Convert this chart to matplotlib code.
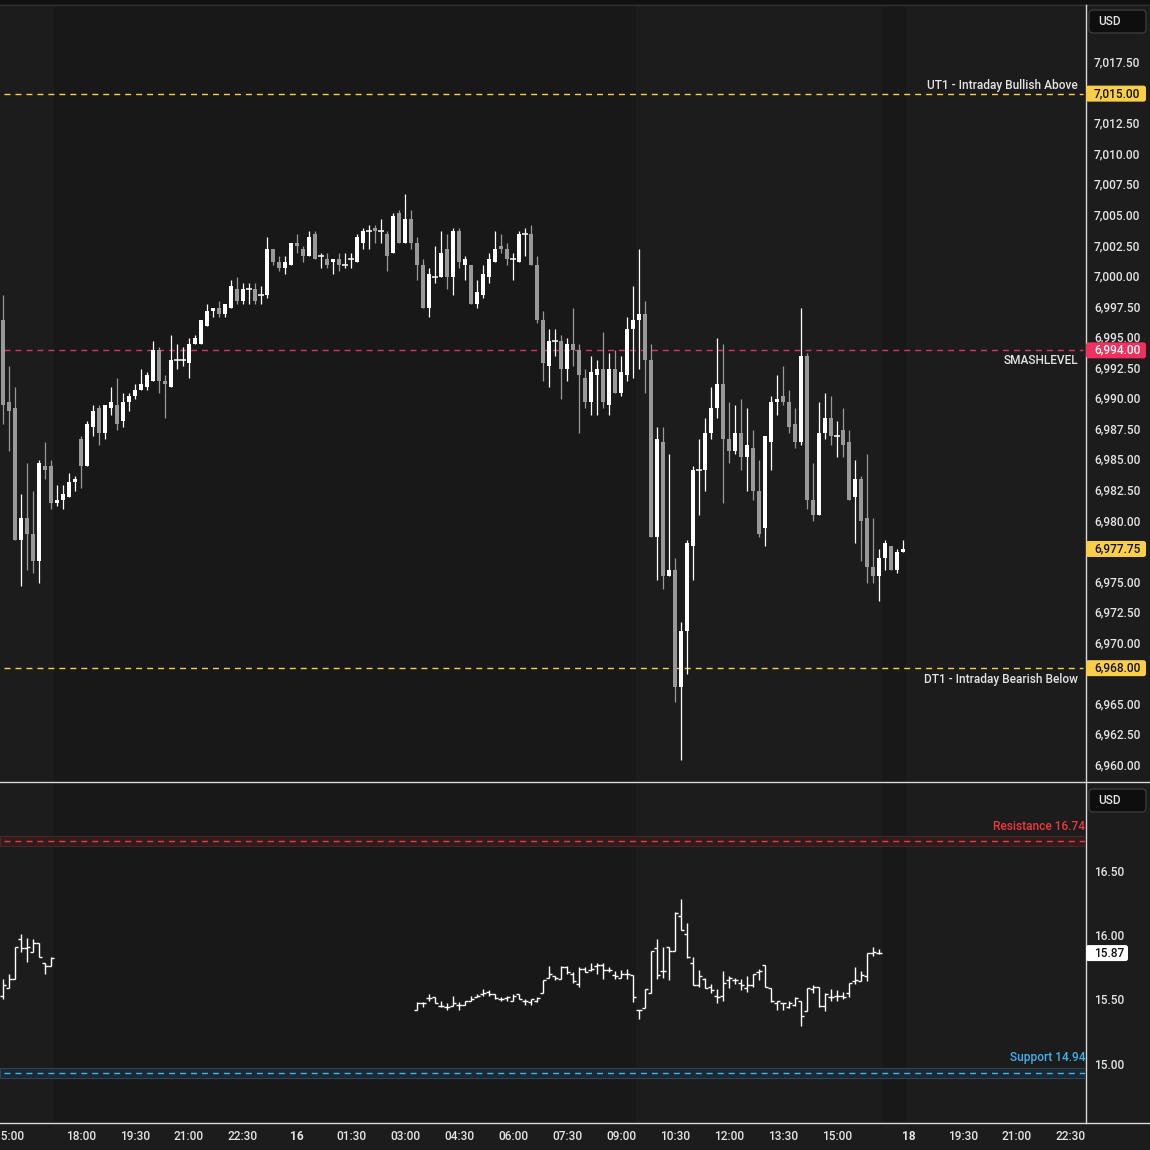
import matplotlib
matplotlib.use("Agg")
import matplotlib.pyplot as plt
from matplotlib.patches import FancyBboxPatch, Rectangle
import numpy as np

plt.rcParams['font.family'] = ['Roboto', 'Liberation Sans', 'DejaVu Sans']
plt.rcParams['lines.scale_dashes'] = False

W = H = 1150
DPI = 100

# ---------------- ES 10-minute candles (bar index 0..150) ----------------
es_open = [6996.5, 6989.75, 6989.25, 6978.5, 6980.25, 6979.0, 6976.75, 6984.5, 6984.5, 6981.5,
           6981.75, 6982.0, 6983.25, 6986.75, 6984.5, 6987.75, 6989.25, 6987.25, 6989.25, 6989.5,
           6988.25, 6989.75, 6990.25, 6990.75, 6991.0, 6991.5, 6994.0, 6991.5, 6991.0, 6993.25,
           6993.25, 6993.0, 6994.5, 6994.5, 6996.0, 6997.25, 6997.5, 6997.0, 6997.5, 6999.0,
           6998.0, 6999.0, 6999.0, 6998.5, 6998.5, 7002.25, 7001.25, 7000.75, 7001.0, 7002.75,
           7002.25, 7001.75, 7003.5, 7001.75, 7001.5, 7001.25, 7001.5, 7001.0, 7001.5, 7001.25,
           7002.75, 7003.75, 7004.0, 7003.75, 7003.5, 7002.0, 7005.25, 7002.75, 7004.75, 7002.75,
           7001.0, 6997.5, 7000.0, 7000.0, 7002.25, 7000.0, 7003.75, 7001.0, 7001.0, 6997.75,
           6998.5, 7000.0, 7001.25, 7002.5, 7002.25, 7001.5, 7001.25, 7003.5, 7003.5, 7001.0,
           6996.5, 6992.75, 6994.75, 6994.75, 6992.5, 6994.5, 6994.0, 6991.75, 6989.75, 6992.0,
           6992.5, 6989.5, 6992.5, 6990.5, 6992.0, 6995.75, 6996.5, 6997.0, 6993.25, 6978.75,
           6986.5, 6975.5, 6976.0, 6966.5, 6971.0, 6978.0, 6984.25, 6984.25, 6987.25, 6989.25,
           6991.25, 6986.75, 6985.75, 6987.25, 6985.25, 6986.0, 6982.5, 6979.5, 6986.5, 6989.75,
           6990.25, 6989.75, 6988.0, 6986.5, 6993.5, 6981.75, 6980.5, 6987.25, 6988.5, 6987.0,
           6987.5, 6986.5, 6982.0, 6983.5, 6980.25, 6976.25, 6975.5, 6977.0, 6978.0, 6976.0,
           6977.5]
es_high = [6998.5, 6992.75, 6991.0, 6982.25, 6984.75, 6982.5, 6985.0, 6986.5, 6985.0, 6983.0,
           6983.0, 6984.0, 6983.75, 6987.0, 6988.25, 6989.5, 6989.5, 6989.5, 6991.0, 6991.75,
           6990.5, 6990.5, 6991.25, 6992.5, 6992.25, 6994.75, 6994.25, 6992.0, 6995.25, 6994.5,
           6994.25, 6995.0, 6995.25, 6996.5, 6997.75, 6997.5, 6998.0, 6997.75, 6999.75, 7000.0,
           6999.5, 6999.5, 6999.5, 6999.25, 7003.25, 7002.25, 7001.75, 7001.75, 7002.75, 7003.5,
           7002.5, 7003.75, 7003.75, 7002.0, 7002.0, 7001.5, 7002.0, 7002.0, 7002.0, 7003.5,
           7004.0, 7004.25, 7004.25, 7004.75, 7003.75, 7005.25, 7005.5, 7006.75, 7005.5, 7003.25,
           7001.5, 7000.75, 7002.5, 7003.75, 7003.5, 7004.0, 7004.0, 7001.75, 7001.0, 6999.75,
           7001.0, 7002.0, 7003.75, 7003.5, 7002.75, 7002.0, 7003.75, 7004.0, 7004.25, 7001.75,
           6997.25, 6995.75, 6995.75, 6995.25, 6995.0, 6997.5, 6994.5, 6992.5, 6993.5, 6993.25,
           6995.5, 6993.75, 6994.0, 6993.5, 6996.75, 6999.25, 7002.25, 6998.0, 6994.5, 6987.75,
           6987.75, 6985.5, 6977.0, 6971.75, 6978.5, 6984.5, 6986.75, 6988.5, 6991.0, 6995.0,
           6994.5, 6989.75, 6989.5, 6990.0, 6989.25, 6987.5, 6985.0, 6987.0, 6990.25, 6992.0,
           6992.75, 6990.75, 6989.25, 6997.5, 6993.75, 6984.75, 6989.75, 6990.5, 6990.25, 6988.25,
           6989.25, 6987.5, 6985.0, 6983.75, 6985.5, 6980.25, 6977.75, 6978.5, 6978.0, 6977.75,
           6978.5]
es_low = [6988.0, 6985.75, 6978.5, 6974.75, 6976.0, 6975.75, 6975.0, 6983.5, 6981.0, 6981.25,
          6981.0, 6982.0, 6982.5, 6982.75, 6984.5, 6987.0, 6986.25, 6986.75, 6988.75, 6987.5,
          6987.75, 6989.0, 6990.0, 6990.75, 6990.75, 6991.5, 6990.5, 6988.5, 6991.0, 6992.5,
          6992.75, 6991.75, 6994.5, 6994.5, 6996.0, 6996.75, 6996.75, 6996.75, 6997.5, 6997.75,
          6997.75, 6997.75, 6997.75, 6997.75, 6998.25, 7001.0, 7000.5, 7000.25, 7001.0, 7002.0,
          7001.25, 7001.75, 7001.5, 7000.75, 7000.75, 7000.25, 7000.5, 7000.75, 7000.75, 7001.25,
          7002.25, 7002.25, 7002.75, 7002.75, 7000.5, 7002.0, 7002.75, 7002.75, 7002.25, 6999.75,
          6997.5, 6996.75, 6999.5, 7000.0, 6999.0, 6998.5, 7000.75, 6999.75, 6997.75, 6997.5,
          6998.25, 6999.5, 7001.25, 7002.0, 7001.0, 6999.75, 7001.25, 7001.75, 7001.0, 6996.25,
          6991.5, 6991.0, 6993.5, 6990.0, 6991.5, 6992.75, 6987.25, 6989.25, 6988.75, 6988.75,
          6989.25, 6988.75, 6990.5, 6990.25, 6991.5, 6991.75, 6992.5, 6990.5, 6978.75, 6975.25,
          6974.5, 6975.5, 6965.25, 6960.5, 6967.5, 6975.25, 6980.5, 6982.5, 6986.75, 6988.5,
          6981.5, 6984.75, 6985.5, 6984.25, 6982.5, 6981.75, 6978.75, 6978.0, 6984.25, 6988.75,
          6989.5, 6987.25, 6986.0, 6986.25, 6981.0, 6980.0, 6980.5, 6986.75, 6986.25, 6985.25,
          6985.25, 6981.75, 6978.25, 6976.75, 6975.0, 6975.0, 6973.5, 6976.0, 6976.0, 6975.75,
          6977.5]
es_close = [6989.5, 6989.0, 6978.5, 6980.25, 6979.0, 6976.75, 6984.75, 6984.25, 6981.5, 6981.75,
            6982.25, 6983.25, 6983.5, 6984.5, 6988.0, 6989.0, 6987.25, 6989.5, 6989.75, 6988.0,
            6989.75, 6990.25, 6990.75, 6991.25, 6992.0, 6994.0, 6991.5, 6991.25, 6993.25, 6993.25,
            6993.25, 6994.5, 6995.0, 6996.5, 6997.25, 6997.5, 6997.0, 6997.75, 6999.25, 6998.0,
            6999.0, 6999.0, 6998.0, 6998.5, 7002.25, 7001.25, 7000.75, 7001.25, 7002.75, 7002.5,
            7001.75, 7003.25, 7001.5, 7001.75, 7001.0, 7001.5, 7001.0, 7001.0, 7001.5, 7003.25,
            7003.75, 7003.75, 7003.75, 7003.75, 7001.75, 7005.0, 7002.75, 7004.75, 7002.75, 7001.0,
            6997.5, 7000.25, 7000.0, 7002.0, 7000.0, 7003.75, 7001.25, 7001.5, 6997.75, 6998.75,
            7000.25, 7001.5, 7002.25, 7002.25, 7001.5, 7001.5, 7003.5, 7003.5, 7001.0, 6996.5,
            6993.0, 6994.75, 6994.75, 6992.5, 6994.5, 6994.0, 6992.0, 6989.75, 6992.25, 6992.5,
            6989.75, 6992.5, 6990.5, 6992.25, 6995.75, 6996.5, 6997.0, 6993.25, 6978.75, 6986.75,
            6975.5, 6976.0, 6966.5, 6971.0, 6978.25, 6984.25, 6984.25, 6987.25, 6989.25, 6991.25,
            6986.75, 6985.75, 6987.25, 6985.25, 6986.25, 6982.5, 6979.0, 6987.0, 6989.75, 6990.0,
            6989.75, 6987.75, 6986.5, 6993.5, 6981.75, 6980.5, 6987.25, 6988.5, 6987.0, 6987.0,
            6986.25, 6981.75, 6983.5, 6980.0, 6976.25, 6975.5, 6977.0, 6978.25, 6976.0, 6977.5,
            6977.75]

# ---------------- VIX 10-minute OHLC bars (two sessions) ----------------
vix1_start = 0
vix1_open = [15.54, 15.60, 15.67, 15.98, 15.91, 15.88, 15.95, 15.79, 15.77]
vix1_high = [15.67, 15.71, 15.92, 16.02, 15.99, 15.98, 15.95, 15.79, 15.84]
vix1_low = [15.51, 15.60, 15.67, 15.88, 15.80, 15.88, 15.84, 15.71, 15.77]
vix1_close = [15.62, 15.67, 15.92, 15.91, 15.92, 15.95, 15.84, 15.77, 15.83]

vix2_start = 69
vix2_open = [15.43, 15.48, 15.52, 15.53, 15.46, 15.45, 15.46, 15.47, 15.47, 15.50,
             15.53, 15.55, 15.57, 15.55, 15.51, 15.52, 15.50, 15.55, 15.50, 15.49,
             15.50, 15.56, 15.68, 15.69, 15.67, 15.76, 15.71, 15.63, 15.75, 15.74,
             15.77, 15.78, 15.74, 15.70, 15.68, 15.71, 15.70, 15.43, 15.44, 15.56,
             15.91, 15.73, 15.92, 15.89, 16.16, 16.02, 15.79, 15.62, 15.67, 15.61,
             15.54, 15.54, 15.66, 15.66, 15.64, 15.60, 15.62, 15.72, 15.78, 15.60,
             15.48, 15.48, 15.45, 15.47, 15.50, 15.42, 15.59, 15.61, 15.46, 15.53,
             15.54, 15.54, 15.56, 15.65, 15.65, 15.69, 15.87, 15.87]
vix2_high = [15.49, 15.49, 15.55, 15.53, 15.50, 15.48, 15.54, 15.49, 15.50, 15.54,
             15.55, 15.59, 15.58, 15.55, 15.53, 15.54, 15.55, 15.55, 15.51, 15.51,
             15.53, 15.66, 15.77, 15.69, 15.77, 15.77, 15.72, 15.76, 15.76, 15.79,
             15.79, 15.79, 15.76, 15.73, 15.74, 15.75, 15.70, 15.43, 15.59, 15.89,
             15.98, 15.92, 15.92, 16.19, 16.29, 16.10, 15.84, 15.74, 15.68, 15.63,
             15.59, 15.73, 15.69, 15.68, 15.67, 15.69, 15.71, 15.75, 15.78, 15.60,
             15.50, 15.48, 15.50, 15.53, 15.50, 15.60, 15.62, 15.61, 15.56, 15.59,
             15.58, 15.57, 15.64, 15.76, 15.73, 15.87, 15.92, 15.90]
vix2_low = [15.43, 15.45, 15.50, 15.48, 15.45, 15.43, 15.46, 15.43, 15.47, 15.50,
            15.53, 15.54, 15.54, 15.51, 15.50, 15.50, 15.50, 15.51, 15.47, 15.47,
            15.49, 15.56, 15.68, 15.66, 15.67, 15.71, 15.64, 15.61, 15.72, 15.73,
            15.71, 15.67, 15.72, 15.67, 15.68, 15.67, 15.49, 15.36, 15.44, 15.56,
            15.67, 15.68, 15.66, 15.89, 16.05, 15.83, 15.62, 15.61, 15.60, 15.56,
            15.48, 15.50, 15.60, 15.63, 15.58, 15.57, 15.61, 15.66, 15.61, 15.49,
            15.43, 15.43, 15.44, 15.46, 15.30, 15.42, 15.56, 15.45, 15.42, 15.50,
            15.50, 15.51, 15.53, 15.63, 15.65, 15.65, 15.85, 15.86]
vix2_close = [15.48, 15.48, 15.52, 15.48, 15.46, 15.45, 15.48, 15.47, 15.50, 15.51,
              15.54, 15.56, 15.55, 15.52, 15.51, 15.53, 15.54, 15.51, 15.50, 15.51,
              15.52, 15.66, 15.71, 15.68, 15.76, 15.72, 15.65, 15.75, 15.72, 15.75,
              15.78, 15.74, 15.74, 15.69, 15.71, 15.71, 15.53, 15.43, 15.59, 15.89,
              15.70, 15.73, 15.89, 16.18, 16.05, 15.84, 15.62, 15.69, 15.60, 15.58,
              15.53, 15.64, 15.68, 15.66, 15.62, 15.62, 15.71, 15.73, 15.61, 15.50,
              15.50, 15.48, 15.48, 15.52, 15.38, 15.60, 15.61, 15.46, 15.55, 15.53,
              15.54, 15.53, 15.64, 15.66, 15.70, 15.87, 15.88, 15.87]

# ---------------- levels ----------------
ut1_level = 7015.00
smash_level = 6994.00
dt1_level = 6968.00
es_last = 6977.75
res_level = 16.74
sup_level = 14.94
res_zone = (16.70, 16.78)
sup_zone = (14.90, 14.98)
vix_last = 15.87

# visible price-scale labels (the ones not hidden behind tags/buttons)
es_ticks = [6960.0, 6962.5, 6965.0, 6970.0, 6972.5, 6975.0, 6980.0, 6982.5, 6985.0, 6987.5,
            6990.0, 6992.5, 6995.0, 6997.5, 7000.0, 7002.5, 7005.0, 7007.5, 7010.0, 7012.5,
            7017.5]
vix_ticks = [15.00, 15.50, 16.00, 16.50]

time_pos = [1, 13, 22, 31, 40, 49, 58, 67, 76, 85, 94, 103, 112, 121, 130, 139, 151, 160, 169, 178]
time_labels = ['15:00', '18:00', '19:30', '21:00', '22:30', '16', '01:30', '03:00', '04:30', '06:00',
               '07:30', '09:00', '10:30', '12:00', '13:30', '15:00', '18', '19:30', '21:00', '22:30']
session_spans = [(-0.5, 8.5), (105.5, 146.5), (150.5, 185)]

# ---------------- colours ----------------
BG_DARK = '#181818'
BG_LIGHT = '#1c1c1c'
UP = '#ffffff'
DOWN = '#999999'
TXT = '#e4e4e4'
YELLOW = '#f9cf4a'
PINK = '#f0305f'
PINK_LINE = '#d83464'
RED = '#f0393f'
BLUE = '#3fb3f0'

fig = plt.figure(figsize=(W / DPI, H / DPI), dpi=DPI, facecolor=BG_LIGHT)


def fpos(x0, y0, x1, y1):
    return [x0 / W, 1 - y1 / H, (x1 - x0) / W, (y1 - y0) / H]


ax1 = fig.add_axes(fpos(0, 5, 1085, 781))
ax2 = fig.add_axes(fpos(0, 783, 1085, 1122))
XLIM = (-0.5, 180.33)
for ax in (ax1, ax2):
    ax.set_facecolor(BG_DARK)
    ax.set_xlim(*XLIM)
    for s in ax.spines.values():
        s.set_visible(False)
    ax.set_xticks([])
    ax.set_yticks([])
    for a, b in session_spans:
        ax.axvspan(a, b, color=BG_LIGHT, lw=0, zorder=0)
ax1.set_ylim(6958.77, 7022.25)
ax2.set_ylim(14.557, 17.192)

# ---- candles ----
o = np.array(es_open); h = np.array(es_high); l = np.array(es_low); c = np.array(es_close)
idx = np.arange(len(o))
up = c >= o
cols = np.where(up, UP, DOWN)
ax1.vlines(idx, l, h, colors=cols, lw=0.9, zorder=3)
body = np.abs(c - o)
ax1.bar(idx, body, bottom=np.minimum(o, c), width=0.8, color=cols, lw=0, zorder=4)
dj = body < 0.1
ax1.hlines(c[dj], idx[dj] - 0.42, idx[dj] + 0.42, colors=cols[dj], lw=1.1, zorder=4)

# ---- VIX bars ----
def ohlc(ax, start, op, hi, lo, cl):
    x = start + np.arange(len(op))
    ax.vlines(x, lo, hi, colors='white', lw=1.0, zorder=3)
    ax.hlines(op, x - 0.42, x, colors='white', lw=1.0, zorder=3)
    ax.hlines(cl, x, x + 0.42, colors='white', lw=1.0, zorder=3)

ohlc(ax2, vix1_start, vix1_open, vix1_high, vix1_low, vix1_close)
ohlc(ax2, vix2_start, vix2_open, vix2_high, vix2_low, vix2_close)

# ---- horizontal levels ----
dash = (0, (4.3, 3.6))
ax1.axhline(ut1_level, xmin=0.004, xmax=0.998, color=YELLOW, lw=1.0, ls=dash, zorder=2)
ax1.axhline(dt1_level, xmin=0.004, xmax=0.998, color=YELLOW, lw=1.0, ls=dash, zorder=2)
ax1.axhline(smash_level, xmin=0.004, xmax=0.998, color=PINK_LINE, lw=1.0, ls=dash, zorder=2)
ax2.axhspan(*res_zone, facecolor='#301c1c', edgecolor='#4a2626', lw=0.8, zorder=1)
ax2.axhspan(*sup_zone, facecolor='#1c2933', edgecolor='#28445a', lw=0.8, zorder=1)
ax2.axhline(res_level, xmin=0.004, color=RED, lw=1.0, ls=dash, zorder=2)
ax2.axhline(sup_level, xmin=0.004, color=BLUE, lw=1.0, ls=dash, zorder=2)

# ---------------- overlay in pixel coordinates ----------------
ov = fig.add_axes([0, 0, 1, 1])
ov.set_xlim(0, W)
ov.set_ylim(H, 0)
ov.axis('off')
ov.set_zorder(10)
ov.patch.set_visible(False)


def py(ax, v):
    return H - ax.transData.transform((0, v))[1]


def px(ax, i):
    return ax.transData.transform((i, 0))[0]


FS = 8.6
FW = 'medium'
# top strip
ov.add_patch(Rectangle((0, 0), W, 4, facecolor='#101010', lw=0, zorder=1))
ov.plot([0, W], [4.5, 4.5], color='#2e2e2e', lw=1, zorder=2)
# separators
ov.plot([1085.5, 1085.5], [5, 1123], color='#d8d8d8', lw=1, zorder=2)
ov.plot([0, W], [782, 782], color='#d8d8d8', lw=1, zorder=2)
ov.plot([0, W], [1123, 1123], color='#d8d8d8', lw=1, zorder=2)

# axis tick labels
for v in es_ticks:
    ov.text(1094, py(ax1, v), f'{v:,.2f}', ha='left', va='center', color=TXT, fontsize=FS,
            fontweight=FW, zorder=3)
for v in vix_ticks:
    ov.text(1094, py(ax2, v), f'{v:.2f}', ha='left', va='center', color=TXT, fontsize=FS,
            fontweight=FW, zorder=3)


def price_box(y, text, fc, tc, x0=1086, x1=1146, hh=16):
    ov.add_patch(FancyBboxPatch((x0, y - hh / 2), x1 - x0, hh,
                                boxstyle='round,pad=0,rounding_size=2.5',
                                facecolor=fc, edgecolor='none', zorder=5))
    ov.text(x0 + 8, y, text, ha='left', va='center', color=tc, fontsize=FS, fontweight=FW, zorder=6)


price_box(py(ax1, ut1_level), f'{ut1_level:,.2f}', YELLOW, '#111111')
price_box(py(ax1, smash_level), f'{smash_level:,.2f}', PINK, '#ffffff')
price_box(py(ax1, es_last), f'{es_last:,.2f}', YELLOW, '#111111')
price_box(py(ax1, dt1_level), f'{dt1_level:,.2f}', YELLOW, '#111111')
price_box(py(ax2, vix_last), f'{vix_last:.2f}', '#ffffff', '#111111', x1=1128)

# level captions
ov.text(1078, py(ax1, ut1_level) - 8, 'UT1 - Intraday Bullish Above', ha='right', va='center',
        color=TXT, fontsize=FS, fontweight=FW, zorder=3)
ov.text(1078, py(ax1, smash_level) + 10.5, 'SMASHLEVEL', ha='right', va='center',
        color=TXT, fontsize=FS, fontweight=FW, zorder=3)
ov.text(1078, py(ax1, dt1_level) + 11.5, 'DT1 - Intraday Bearish Below', ha='right', va='center',
        color=TXT, fontsize=FS, fontweight=FW, zorder=3)
ov.text(1085, py(ax2, res_level) - 15, f'Resistance {res_level:.2f}', ha='right', va='center',
        color=RED, fontsize=FS, fontweight=FW, zorder=3)
ov.text(1085, py(ax2, sup_level) - 15, f'Support {sup_level:.2f}', ha='right', va='center',
        color=BLUE, fontsize=FS, fontweight=FW, zorder=3)

# USD buttons
for y0 in (10, 789):
    ov.add_patch(FancyBboxPatch((1089, y0), 57, 23, boxstyle='round,pad=0,rounding_size=4',
                                facecolor='#0e0e0e', edgecolor='#3a3a3a', lw=1, zorder=7))
    ov.text(1098, y0 + 11.5, 'USD', ha='left', va='center', color=TXT, fontsize=FS,
            fontweight=FW, zorder=8)

# time axis
for pos, lab in zip(time_pos, time_labels):
    bold = lab in ('16', '18')
    ov.text(px(ax1, pos), 1137, lab, ha='center', va='center', color=TXT, fontsize=FS,
            fontweight='bold' if bold else FW, zorder=3)

fig.savefig('out.png', dpi=DPI, facecolor=fig.get_facecolor())
